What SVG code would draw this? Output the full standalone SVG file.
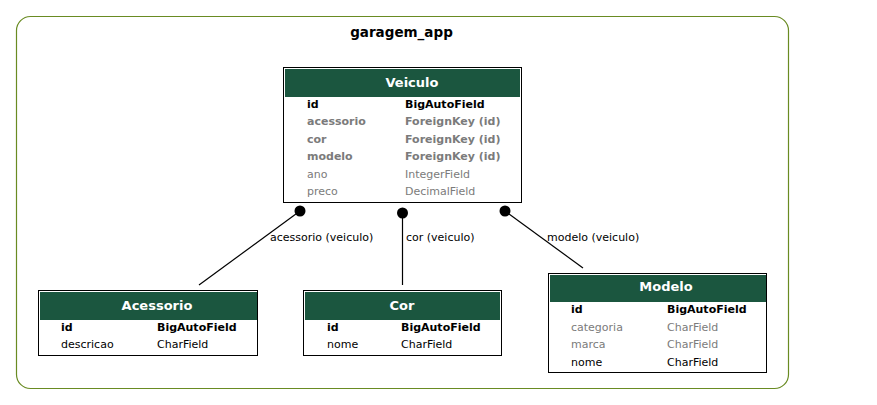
<svg xmlns="http://www.w3.org/2000/svg" width="877" height="405" viewBox="0 0 877 405">
<style>
text{font-family:"DejaVu Sans","Liberation Sans",sans-serif;font-size:11px;fill:#000}
.t{font-weight:bold;font-size:13px;fill:#fff;text-anchor:middle}
.b{font-weight:bold}
.g{fill:#7b7b7b}
.box{fill:#fff;stroke:#000;stroke-width:1}
.hd{fill:#1b563f}
.edge{stroke:#000;stroke-width:1.2;fill:none}
.dot{fill:#000}
</style>
<rect width="877" height="405" fill="#fff"/>
<g id="cluster">
<rect x="16.5" y="16.5" width="772" height="372" rx="14" ry="14" fill="none" stroke="#698b22" stroke-width="1.2"/>
<text x="401.5" y="37" text-anchor="middle" class="b" style="font-size:13.5px">garagem_app</text>
</g>
<g id="connectors">
<line class="edge" x1="300" y1="211" x2="199" y2="285"/>
<circle class="dot" cx="300" cy="211" r="5.5"/>
<text x="270" y="241">acessorio (veiculo)</text>
<line class="edge" x1="402.5" y1="213" x2="402.5" y2="285"/>
<circle class="dot" cx="402.5" cy="213" r="5.5"/>
<text x="406" y="241">cor (veiculo)</text>
<line class="edge" x1="505" y1="211" x2="583" y2="268"/>
<circle class="dot" cx="505" cy="211" r="5.5"/>
<text x="547" y="241">modelo (veiculo)</text>
</g>
<g id="Veiculo">
<rect class="box" x="283.5" y="67.5" width="238" height="135"/>
<rect class="hd" x="285" y="69" width="235" height="28"/>
<text class="t" x="412" y="87">Veiculo</text>
<text class="b" x="307" y="107.5">id</text><text class="b" x="405" y="107.5">BigAutoField</text>
<text class="b g" x="307" y="125">acessorio</text><text class="b g" x="405" y="125">ForeignKey (id)</text>
<text class="b g" x="307" y="142.5">cor</text><text class="b g" x="405" y="142.5">ForeignKey (id)</text>
<text class="b g" x="307" y="160">modelo</text><text class="b g" x="405" y="160">ForeignKey (id)</text>
<text class="g" x="307" y="177.5">ano</text><text class="g" x="405" y="177.5">IntegerField</text>
<text class="g" x="307" y="195">preco</text><text class="g" x="405" y="195">DecimalField</text>
</g>
<g id="Acessorio">
<rect class="box" x="38.5" y="290.5" width="219" height="65"/>
<rect class="hd" x="40" y="292" width="217" height="28"/>
<text class="t" x="157" y="309.5">Acessorio</text>
<text class="b" x="61" y="330.5">id</text><text class="b" x="157" y="330.5">BigAutoField</text>
<text x="61" y="348">descricao</text><text x="157" y="348">CharField</text>
</g>
<g id="Cor">
<rect class="box" x="303.5" y="290.5" width="198" height="65"/>
<rect class="hd" x="305" y="292" width="195" height="28"/>
<text class="t" x="402" y="309.5">Cor</text>
<text class="b" x="327" y="330.5">id</text><text class="b" x="401" y="330.5">BigAutoField</text>
<text x="327" y="348">nome</text><text x="401" y="348">CharField</text>
</g>
<g id="Modelo">
<rect class="box" x="548.5" y="273.5" width="218" height="99"/>
<rect class="hd" x="550" y="275" width="216" height="27"/>
<text class="t" x="666" y="291">Modelo</text>
<text class="b" x="571" y="313">id</text><text class="b" x="667" y="313">BigAutoField</text>
<text class="g" x="571" y="330.5">categoria</text><text class="g" x="667" y="330.5">CharField</text>
<text class="g" x="571" y="348">marca</text><text class="g" x="667" y="348">CharField</text>
<text x="571" y="365.5">nome</text><text x="667" y="365.5">CharField</text>
</g>
</svg>
